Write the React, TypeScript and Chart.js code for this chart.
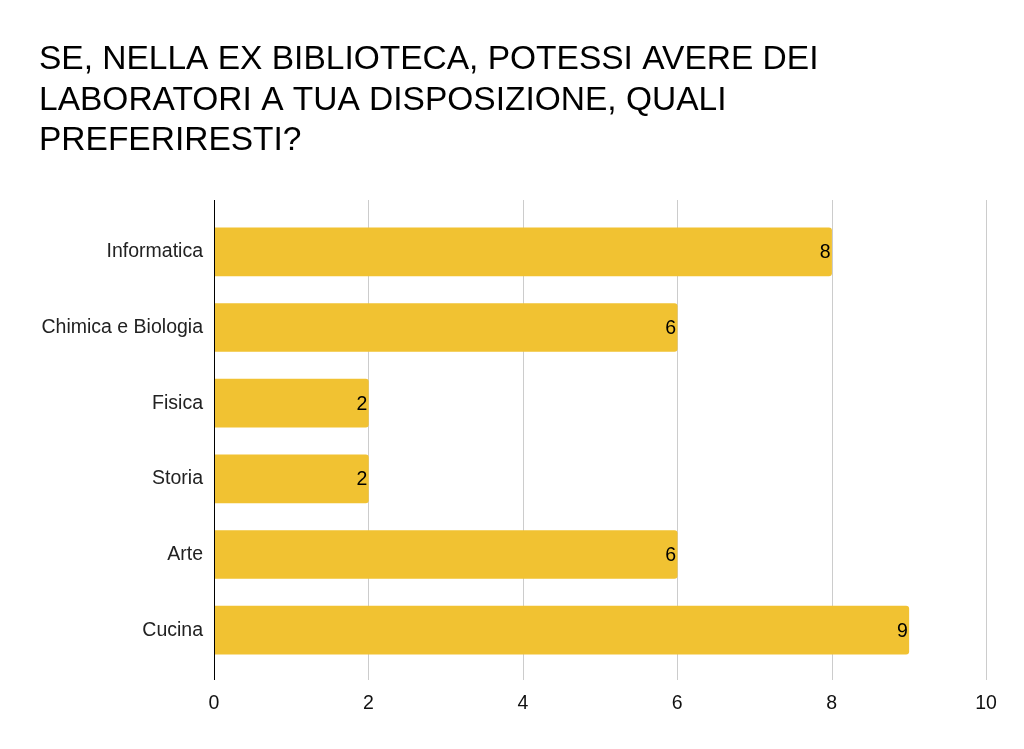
import React, { useEffect, useRef } from "react";
import { Chart, registerables } from "chart.js";

Chart.register(...registerables);

const titleLines = [
  "SE, NELLA EX BIBLIOTECA, POTESSI AVERE DEI",
  "LABORATORI A TUA DISPOSIZIONE, QUALI",
  "PREFERIRESTI?",
];
const categories = ["Informatica", "Chimica e Biologia", "Fisica", "Storia", "Arte", "Cucina"];
const values = [8, 6, 2, 2, 6, 9];
const xTickValues = [0, 2, 4, 6, 8, 10];

const FONT = "'Liberation Sans', Arial, sans-serif";

const gridPlugin = {
  id: "customGrid",
  beforeDatasetsDraw(chart: any) {
    const { ctx, chartArea, scales } = chart;
    const xs = scales.x;
    ctx.save();
    ctx.lineWidth = 1;
    xTickValues.forEach((v) => {
      if (v === 0) return;
      const x = Math.round(xs.getPixelForValue(v)) + 0.5;
      ctx.strokeStyle = "#cccccc";
      ctx.beginPath();
      ctx.moveTo(x, chartArea.top - 14);
      ctx.lineTo(x, chartArea.bottom + 12);
      ctx.stroke();
    });
    ctx.restore();
  },
  afterDatasetsDraw(chart: any) {
    const { ctx, chartArea, scales } = chart;
    const xs = scales.x;
    ctx.save();
    const x0 = Math.round(xs.getPixelForValue(0)) + 0.5;
    ctx.strokeStyle = "#000000";
    ctx.lineWidth = 1;
    ctx.beginPath();
    ctx.moveTo(x0, chartArea.top - 14);
    ctx.lineTo(x0, chartArea.bottom + 12);
    ctx.stroke();

    const meta = chart.getDatasetMeta(0);
    ctx.font = `19.5px ${FONT}`;
    ctx.fillStyle = "#000000";
    ctx.textAlign = "right";
    ctx.textBaseline = "middle";
    meta.data.forEach((el: any, i: number) => {
      ctx.fillText(String(values[i]), el.x - 1, el.y + 1);
    });
    ctx.restore();
  },
  afterDraw(chart: any) {
    const { ctx } = chart;
    ctx.save();
    ctx.font = `33.5px ${FONT}`;
    ctx.fillStyle = "#000000";
    ctx.textAlign = "left";
    ctx.textBaseline = "alphabetic";
    titleLines.forEach((t, i) => {
      ctx.fillText(t, 39, 69 + i * 40.5);
    });
    ctx.restore();
  },
};

export default function App() {
  const ref = useRef<HTMLCanvasElement>(null);
  useEffect(() => {
    let chart: any = null;
    let cancelled = false;
    const build = () => {
      if (cancelled || !ref.current) return;
      chart = new Chart(ref.current, {
        type: "bar",
        data: {
          labels: categories,
          datasets: [
            {
              data: values,
              backgroundColor: "#F1C232",
              borderRadius: 3,
              borderSkipped: "start",
              barThickness: 48,
            },
          ],
        },
        options: {
          indexAxis: "y",
          responsive: false,
          animation: false,
          layout: { padding: { top: 214, right: 38, left: 0, bottom: 0 } },
          plugins: { legend: { display: false }, tooltip: { enabled: false }, title: { display: false } },
          scales: {
            x: {
              min: 0,
              max: 10,
              ticks: {
                stepSize: 2,
                font: { family: FONT, size: 19.5 },
                color: "#111111",
                padding: 24,
              },
              grid: { display: false, drawTicks: false, tickLength: 0 },
              border: { display: false },
              afterFit: (s: any) => {
                s.height = 81;
              },
            },
            y: {
              ticks: {
                font: { family: FONT, size: 19.5 },
                color: "#222222",
                padding: 11,
              },
              grid: { display: false, drawTicks: false, tickLength: 0 },
              border: { display: false },
              afterFit: (s: any) => {
                s.width = 214;
              },
            },
          },
        },
        plugins: [gridPlugin],
      } as any);
    };
    const fonts: any = (document as any).fonts;
    if (fonts && fonts.load) {
      Promise.all([
        fonts.load(`19.5px 'Liberation Sans'`),
        fonts.load(`33.5px 'Liberation Sans'`),
      ])
        .catch(() => null)
        .then(build);
    } else {
      build();
    }
    return () => {
      cancelled = true;
      if (chart) chart.destroy();
    };
  }, []);
  return (
    <div style={{ position: "absolute", left: 0, top: 0, width: 1024, height: 749, background: "#fff" }}>
      <canvas ref={ref} width={1024} height={749} style={{ display: "block" }} />
    </div>
  );
}
